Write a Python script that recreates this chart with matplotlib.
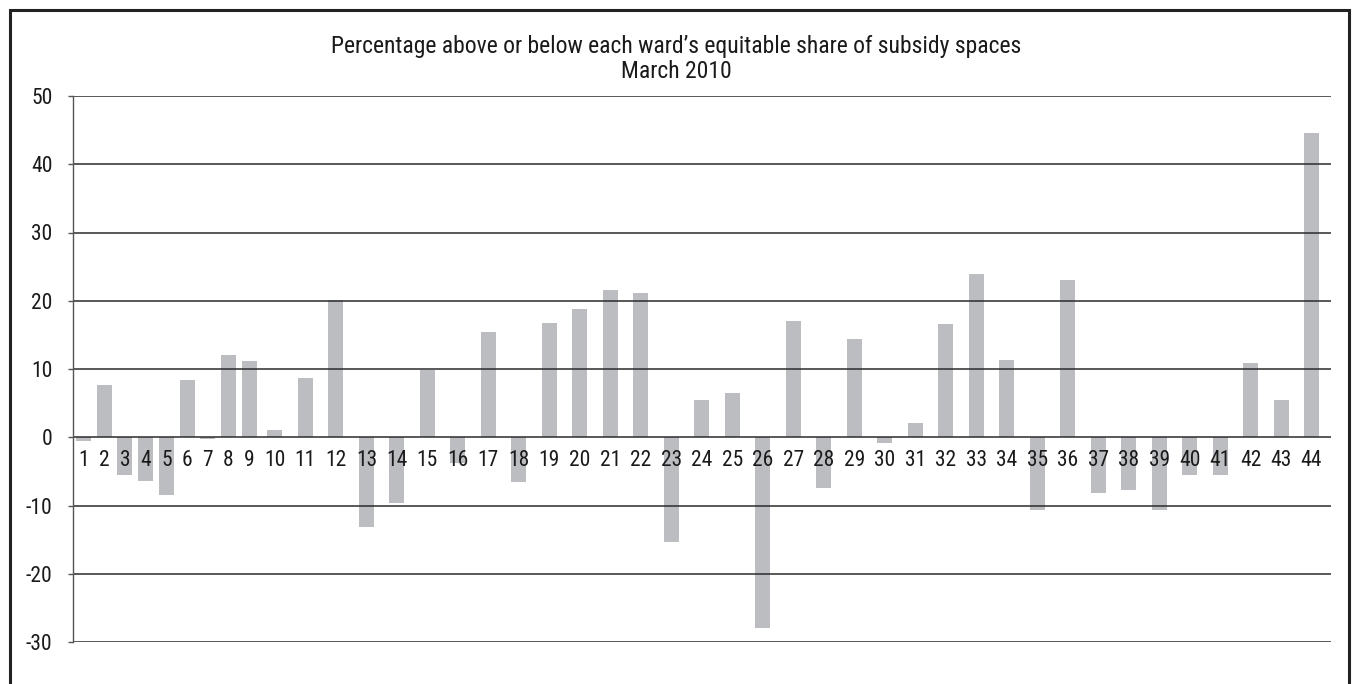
import matplotlib
matplotlib.use("Agg")
import matplotlib.pyplot as plt
from matplotlib import font_manager
from matplotlib.patches import Rectangle

wards = [str(i) for i in range(1, 45)]
values = [-0.6, 7.7, -5.6, -6.4, -8.4, 8.4, -0.3, 12.0, 11.2, 1.1,
          8.7, 20.1, -13.2, -9.6, 9.9, -3.7, 15.4, -6.5, 16.7, 18.8,
          21.6, 21.1, -15.4, 5.5, 6.5, -28.0, 17.0, -7.5, 14.4, -0.9,
          2.1, 16.6, 23.9, 11.3, -10.7, 23.0, -8.2, -7.8, -10.6, -5.5,
          -5.5, 10.9, 5.5, 44.6]
yticks = [-30, -20, -10, 0, 10, 20, 30, 40, 50]
title_lines = ["Percentage above or below each ward\u2019s equitable share of subsidy spaces",
               "March 2010"]

names = {f.name for f in font_manager.fontManager.ttflist}
fam = [f for f in ["Liberation Sans Narrow", "Roboto Condensed", "Roboto", "DejaVu Sans"] if f in names]
plt.rcParams['font.family'] = fam

# positions follow label widths (as in the original layout)
gap = 1.13
pos = []
x = 0.0
prev = None
for w in wards:
    n = len(w)
    if prev is not None:
        x += gap + (prev + n) / 2.0
    pos.append(x)
    prev = n

fig = plt.figure(figsize=(13.53, 6.84), dpi=100)
ax = fig.add_axes([72.7/1353, 1 - 642/684, (1331.3-72.7)/1353, (642-96)/684])

ax.bar(pos, values, width=1.54, color='#bcbdc1', zorder=1)
for yt in yticks:
    ax.axhline(yt, color='#2b2b2b', lw=1.1, zorder=2)

for p, w in zip(pos, wards):
    ax.annotate(w, (p, 0), xytext=(0, -16.5), textcoords='offset points',
                ha='center', va='center', fontsize=15.5, color='#1a1a1a', zorder=3)

ax.set_xlim(pos[0] - 1.09, pos[-1] + 2.03)
ax.set_ylim(-30, 50)
ax.set_yticks(yticks)
ax.set_yticklabels([str(t) for t in yticks], fontsize=15.5, color='#1a1a1a')
ax.tick_params(axis='y', length=3.5, width=1, color='#555555', pad=11)
ax.set_xticks([])
for s in ['top', 'right', 'bottom']:
    ax.spines[s].set_visible(False)
ax.spines['left'].set_color('#555555')
ax.spines['left'].set_linewidth(1.0)

fig.text(0.5, 1 - 46/684, title_lines[0], ha='center', va='center', fontsize=17, color='#1a1a1a')
fig.text(0.5, 1 - 71/684, title_lines[1], ha='center', va='center', fontsize=17, color='#1a1a1a')

fig.patches.append(Rectangle((10/1353, -0.2), (1349-10)/1353, 1.2 - 10/684,
                             transform=fig.transFigure, fill=False,
                             edgecolor='#222222', lw=2.2))

fig.savefig("out.png", dpi=100)
